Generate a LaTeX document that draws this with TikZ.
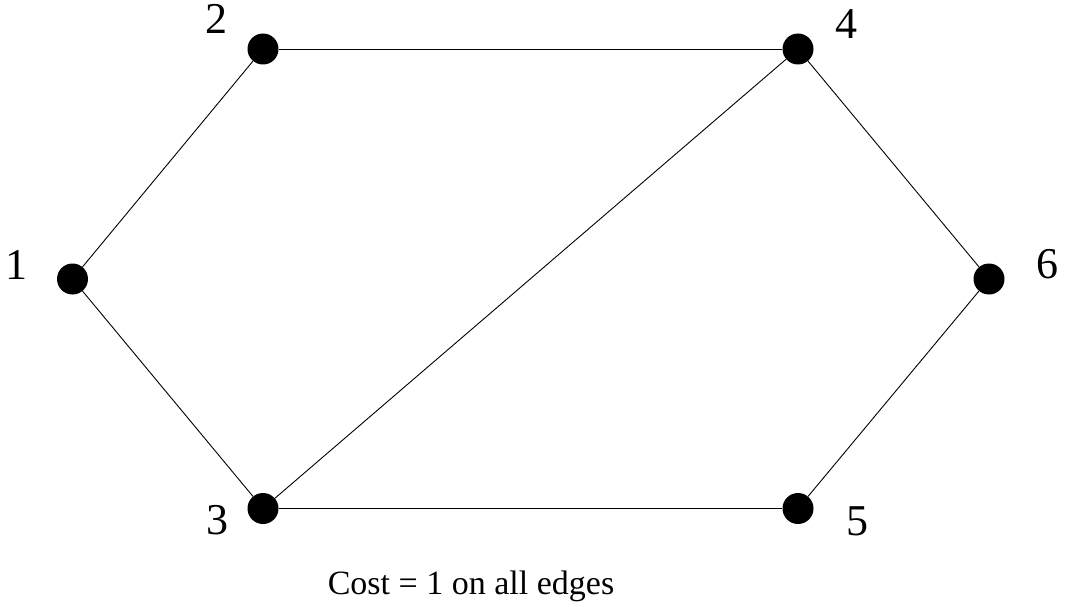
\documentclass[tikz,border=0pt]{standalone}
\usepackage{fontspec}
\setmainfont{Liberation Serif}
\begin{document}
\begin{tikzpicture}[x=1pt,y=-1pt,
  dot/.style={circle,fill=black,inner sep=0pt,minimum size=31pt},
  lbl/.style={inner sep=0pt,font=\fontsize{44}{50}\selectfont},
  edge/.style={line width=0.9pt,black}]
\useasboundingbox (0,0) rectangle (1065,607);
\node[dot] (n1) at (72.5,279) {};
\node[dot] (n2) at (263,49) {};
\node[dot] (n3) at (263,508.5) {};
\node[dot] (n4) at (798,49) {};
\node[dot] (n5) at (798,508.5) {};
\node[dot] (n6) at (989,279) {};
\node[lbl] (l1) at (16.5,264.5) {1};
\node[lbl] (l2) at (216.7,19.3) {2};
\node[lbl] (l3) at (217,520.5) {3};
\node[lbl] (l4) at (846.5,24) {4};
\node[lbl] (l5) at (857,521) {5};
\node[lbl] (l6) at (1047.7,264.3) {6};
\draw[edge] (n1) -- (n2);
\draw[edge] (n1) -- (n3);
\draw[edge] (n2) -- (n4);
\draw[edge] (n3) -- (n4);
\draw[edge] (n3) -- (n5);
\draw[edge] (n4) -- (n6);
\draw[edge] (n5) -- (n6);
\node[anchor=base,inner sep=0pt,font=\fontsize{34}{40}\selectfont] (cap) at (471,594) {Cost = 1 on all edges};
\end{tikzpicture}
\end{document}
